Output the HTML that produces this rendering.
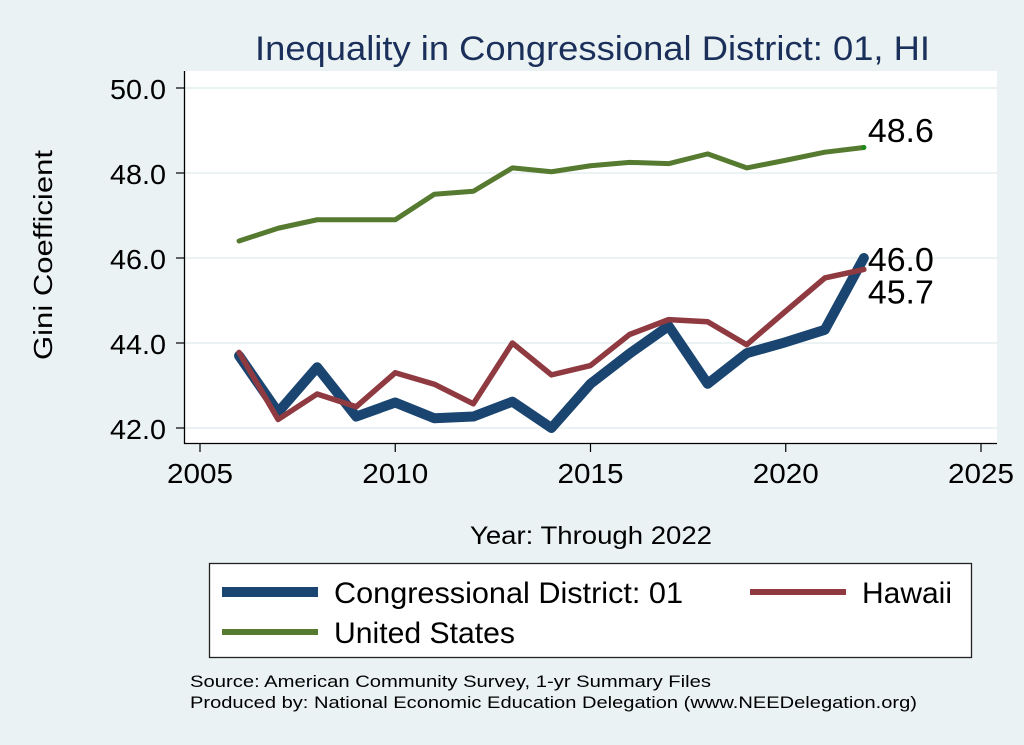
<!DOCTYPE html>
<html><head><meta charset="utf-8"><style>
body{margin:0;background:#eaf2f3;}
svg{display:block;font-family:"Liberation Sans",sans-serif;}
</style></head><body>
<svg width="1024" height="745" viewBox="0 0 1024 745">
<rect x="0" y="0" width="1024" height="745" fill="#eaf2f3"/>
<text x="255" y="60" font-size="34" fill="#1a2f5a" textLength="675" lengthAdjust="spacingAndGlyphs">Inequality in Congressional District:  01, HI</text>
<rect x="185" y="71" width="812" height="372" fill="#fff"/>
<g id="grid"></g>
<g id="axes"></g>
<g id="series"></g>
<text x="52" y="255" font-size="26" fill="#000" text-anchor="middle" textLength="210" lengthAdjust="spacingAndGlyphs" transform="rotate(-90 52 255)">Gini Coefficient</text>
<text x="470" y="544" font-size="25" fill="#000" textLength="242" lengthAdjust="spacingAndGlyphs">Year: Through 2022</text>
<g>
<rect x="209.5" y="563.5" width="762" height="94" fill="#fff" stroke="#222" stroke-width="1.3"/>
<line x1="222" y1="592" x2="318" y2="592" stroke="#1a4570" stroke-width="10"/>
<text x="334" y="603" font-size="30" textLength="349" lengthAdjust="spacingAndGlyphs">Congressional District:  01</text>
<line x1="750" y1="592" x2="846" y2="592" stroke="#8f3a40" stroke-width="6"/>
<text x="862" y="603" font-size="30" textLength="90" lengthAdjust="spacingAndGlyphs">Hawaii</text>
<line x1="222" y1="632" x2="318" y2="632" stroke="#557a30" stroke-width="6"/>
<text x="334" y="643" font-size="30" textLength="181" lengthAdjust="spacingAndGlyphs">United States</text>
</g>
<text x="190" y="687" font-size="17" textLength="521" lengthAdjust="spacingAndGlyphs">Source: American Community Survey, 1-yr Summary Files</text>
<text x="190" y="708" font-size="17" textLength="727" lengthAdjust="spacingAndGlyphs">Produced by: National Economic Education Delegation (www.NEEDelegation.org)</text>
</svg>
<script>
const years=[2006,2007,2008,2009,2010,2011,2012,2013,2014,2015,2016,2017,2018,2019,2020,2021,2022];
const usValues=[46.4,46.7,46.9,46.9,46.9,47.5,47.57,48.12,48.03,48.17,48.25,48.22,48.45,48.12,48.3,48.49,48.6];
const cdValues=[43.7,42.37,43.43,42.27,42.6,42.23,42.27,42.62,42.0,43.04,43.75,44.4,43.04,43.76,44.02,44.31,46.0];
const hiValues=[43.78,42.2,42.8,42.5,43.3,43.03,42.57,44.0,43.25,43.47,44.2,44.55,44.5,43.96,44.75,45.53,45.73];
const yTicks=[42,44,46,48,50];
const yTickLabels=["42.0","44.0","46.0","48.0","50.0"];
const xTicks=[2005,2010,2015,2020,2025];
const NS="http://www.w3.org/2000/svg";
function xs(v){return 200+(v-2005)*(981-200)/20;}
function ys(v){return 428-(v-42)*(428-88)/8;}
function mk(tag,attrs,parent){const e=document.createElementNS(NS,tag);for(const k in attrs)e.setAttribute(k,attrs[k]);parent.appendChild(e);return e;}
const grid=document.getElementById('grid'),axes=document.getElementById('axes'),ser=document.getElementById('series');
yTicks.forEach((t,i)=>{
 const g=mk('line',{x1:185,x2:997,y1:ys(t),y2:ys(t),stroke:'#eaf2f3','stroke-width':2},grid);
 
 
 const tk=mk('line',{x1:176,x2:185,y1:ys(t),y2:ys(t),stroke:'#000','stroke-width':1.2},axes);
 
 
 const tl=mk('text',{x:110,y:ys(t)+11,'font-size':28,textLength:56,lengthAdjust:'spacingAndGlyphs'},axes);
 tl.textContent=yTickLabels[i];
 
 
});
xTicks.forEach(t=>{
 const tk=mk('line',{x1:xs(t),x2:xs(t),y1:443,y2:452,stroke:'#000','stroke-width':1.2},axes);
 
 
 const tl=mk('text',{x:xs(t)-33,y:483,'font-size':28,textLength:66,lengthAdjust:'spacingAndGlyphs'},axes);
 tl.textContent=t;
 
 
});
const ya=mk('line',{x1:184.5,x2:184.5,y1:71,y2:444,stroke:'#000','stroke-width':1.3},axes);


const xa=mk('line',{x1:184,x2:997,y1:443.5,y2:443.5,stroke:'#000','stroke-width':1.3},axes);


function line(vals,color,w,name){
 const p=mk('polyline',{points:vals.map((v,i)=>xs(years[i])+','+ys(v)).join(' '),fill:'none',stroke:color,'stroke-width':w,'stroke-linejoin':'round','stroke-linecap':'round'},ser);
 
 
}
line(usValues,'#557a30',5,'line-united-states');
line(cdValues,'#1a4570',10,'line-congressional-district');
line(hiValues,'#8f3a40',5.5,'line-hawaii');
const dot=mk('circle',{cx:xs(2022),cy:ys(usValues[16]),r:2.5,fill:'#1a8a1a'},ser);


const labs=[[usValues[16],142,'end-label-us'],[cdValues[16],ys(cdValues[16])+13,'end-label-cd'],[hiValues[16],ys(hiValues[16])+34,'end-label-hawaii']];
labs.forEach(l=>{
 const t=mk('text',{x:xs(2022)+4,y:l[1],'font-size':33,textLength:66,lengthAdjust:'spacingAndGlyphs'},ser);
 t.textContent=l[0].toFixed(1);
 
 
});
</script>
</body></html>
